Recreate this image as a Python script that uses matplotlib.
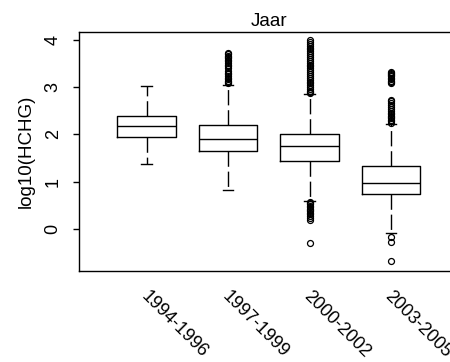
#!/usr/bin/env python3
# boxplot of log10(HCHG) per period, R-style look

import matplotlib
matplotlib.use("Agg")
import matplotlib.pyplot as plt
import matplotlib.transforms as mtransforms

plt.rcParams['font.family'] = ['Liberation Sans', 'DejaVu Sans']

periods = ["1994-1996", "1997-1999", "2000-2002", "2003-2005"]
q1 = [1.95, 1.66, 1.44, 0.75]
med = [2.18, 1.90, 1.75, 0.98]
q3 = [2.39, 2.21, 2.02, 1.34]
whislo = [1.38, 0.82, 0.59, -0.08]
whishi = [3.03, 3.05, 2.85, 2.22]
fliers = [
    [],
    [3.08, 3.11, 3.14, 3.17, 3.20, 3.24, 3.28, 3.31, 3.35, 3.40, 3.44,
     3.48, 3.52, 3.55, 3.58, 3.61, 3.64, 3.67, 3.70, 3.72],
    [2.87, 2.90, 2.93, 2.96, 3.00, 3.04, 3.08, 3.12, 3.16, 3.20, 3.24,
     3.28, 3.32, 3.36, 3.40, 3.44, 3.48, 3.52, 3.56, 3.60, 3.64, 3.68,
     3.72, 3.76, 3.80, 3.84, 3.88, 3.92, 3.96, 4.00,
     0.58, 0.55, 0.52, 0.49, 0.46, 0.43, 0.40, 0.37, 0.34, 0.31, 0.28,
     0.24, 0.20, -0.30],
    [2.25, 2.28, 2.31, 2.34, 2.37, 2.40, 2.43, 2.46, 2.50, 2.54, 2.58,
     2.62, 2.66, 2.70, 2.72,
     3.08, 3.11, 3.14, 3.17, 3.20, 3.23, 3.26, 3.29, 3.31, 3.33,
     -0.16, -0.27, -0.68],
]

stats = []
for i in range(len(periods)):
    stats.append(dict(q1=q1[i], med=med[i], q3=q3[i], whislo=whislo[i],
                      whishi=whishi[i], fliers=fliers[i], label=periods[i]))

fig = plt.figure(figsize=(4.5, 3.62), dpi=100)
ax = fig.add_axes([0.1756, 0.2514, 0.8436, 0.6602])

pos = list(range(1, len(periods) + 1))
ax.bxp(stats, positions=pos, widths=0.72, capwidths=0.13,
       boxprops=dict(color="black", linewidth=1),
       medianprops=dict(color="black", linewidth=1),
       whiskerprops=dict(color="black", linewidth=1, linestyle=(0, (11, 3.5))),
       capprops=dict(color="black", linewidth=1),
       flierprops=dict(marker="o", markerfacecolor="none",
                       markeredgecolor="black", markersize=4.3,
                       markeredgewidth=0.9))

ax.set_xlim(0.17, 4.83)
ax.set_ylim(-0.89, 4.17)
ax.set_yticks([0, 1, 2, 3, 4])
ax.set_yticklabels(["0", "1", "2", "3", "4"], rotation=90, va="center")
ax.tick_params(axis="y", length=4.5, width=1, pad=8, labelsize=13)
ax.set_xticks([])
for s in ax.spines.values():
    s.set_linewidth(1)

trans = mtransforms.blended_transform_factory(ax.transData, ax.transAxes)
off = mtransforms.ScaledTranslation(2 / 72, -12 / 72, fig.dpi_scale_trans)
for p, lab in zip(pos, periods):
    ax.text(p, 0, lab, transform=trans + off, rotation=-45,
            ha="left", va="top", rotation_mode="anchor", fontsize=13)

ax.set_ylabel("log10(HCHG)", fontsize=13.5, labelpad=7)
ax.set_title("Jaar", fontsize=13.5, pad=4)

fig.savefig("out.png", dpi=100)
